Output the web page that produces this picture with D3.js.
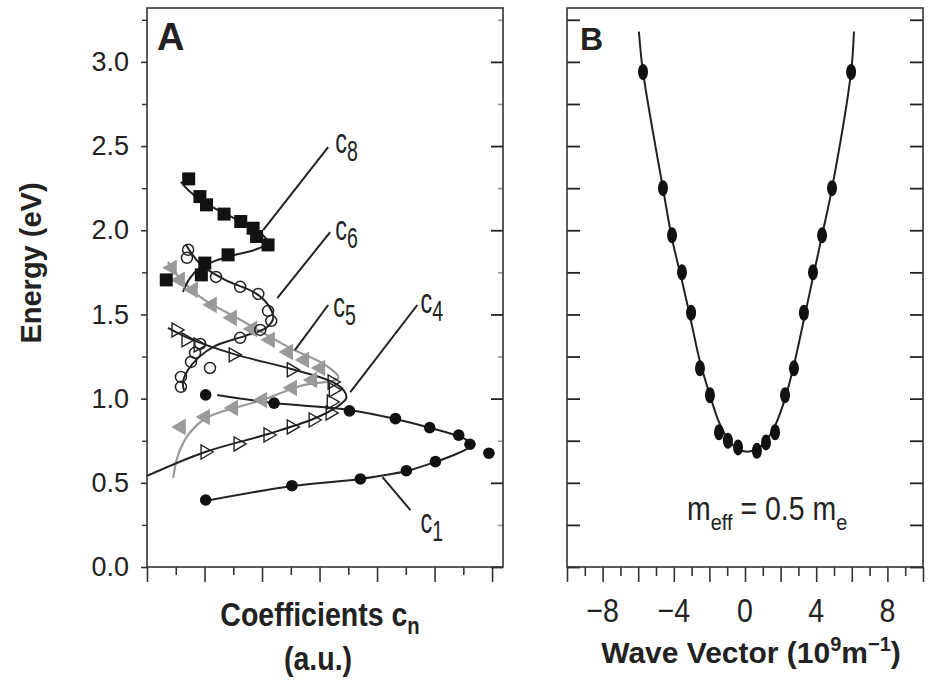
<!DOCTYPE html>
<html><head><meta charset="utf-8">
<script src="https://cdn.jsdelivr.net/npm/d3@7"></script>
<style>
body{margin:0;background:#fff}
svg{display:block}
text{font-family:"Liberation Sans",Arial,Helvetica,sans-serif;fill:#222}
</style>
</head><body>
<svg id="chart" width="928" height="680"></svg>
<script>
// ---------------- DATA ----------------
const energyMajor = [0, 0.5, 1.0, 1.5, 2.0, 2.5, 3.0];
const energyMinor = [0.25, 0.75, 1.25, 1.75, 2.25, 2.75, 3.25];
const energyLabels = ["0.0", "0.5", "1.0", "1.5", "2.0", "2.5", "3.0"];
const coeffTicks = [0, 1, 2, 3, 4, 5, 6, 7, 8, 9, 10, 11, 12];
const waveTicks = [-10, -9, -8, -7, -6, -5, -4, -3, -2, -1, 0, 1, 2, 3, 4, 5, 6, 7, 8, 9, 10];
const waveLabels = [-8, -4, 0, 4, 8];

// Panel A: [coefficient (a.u.), energy (eV)]
const c1Points = [[2.04,0.398],[5.04,0.483],[7.42,0.523],[9.02,0.572],[10.03,0.626],[11.89,0.676],
  [11.23,0.729],[10.84,0.783],[9.83,0.828],[8.64,0.881],[7.04,0.927],[4.42,0.973],[2.04,1.022]];
const c1Fit = [[2.02,0.392],[5.05,0.481],[7.42,0.523],[9.02,0.570],[10.03,0.624],[10.83,0.677],
  [11.25,0.719],[11.11,0.755],[10.83,0.778],[9.86,0.826],[8.64,0.879],[7.04,0.933],[4.42,0.974],[2.44,1.022]];

const c4Points = [[2.02,0.683],[3.17,0.731],[4.21,0.784],[5.02,0.832],[5.78,0.873],[6.37,0.915],
  [6.41,0.980],[6.48,1.052],[6.44,1.099],[5.02,1.171],[3.00,1.260],[1.78,1.319],[1.36,1.349],[1.01,1.408]];
const c4Fit = [[0,0.541],[2.02,0.683],[4.21,0.790],[5.78,0.879],[6.55,0.945],[6.93,1.004],[6.83,1.052],
  [6.37,1.105],[5.02,1.176],[3.00,1.266],[1.50,1.355],[0.73,1.420]];

const c5Points = [[1.18,0.832],[2.02,0.891],[3.00,0.945],[4.01,0.992],[5.05,1.064],[5.75,1.111],[6.03,1.182],
  [5.47,1.230],[4.91,1.277],[4.28,1.349],[3.66,1.414],[2.96,1.480],[2.26,1.557],[1.60,1.646],[1.15,1.705],[0.87,1.777]];
const c5Fit = [[0.91,0.529],[1.08,0.665],[1.43,0.784],[2.06,0.885],[4.01,0.992],[5.33,1.075],[6.65,1.123],
  [6.20,1.200],[4.98,1.301],[3.24,1.468],[1.85,1.604],[1.08,1.729],[0.73,1.812]];

const c6Points = [[1.43,1.884],[1.39,1.836],[2.40,1.723],[3.24,1.664],[3.87,1.622],[4.21,1.521],[4.32,1.462],
  [3.94,1.408],[3.24,1.361],[1.85,1.325],[1.67,1.272],[1.53,1.218],[2.19,1.182],[1.18,1.129],[1.18,1.070]];
const c6Fit = [[1.36,1.913],[1.85,1.800],[2.72,1.705],[3.76,1.628],[4.21,1.557],[4.39,1.480],[4.14,1.420],
  [3.41,1.373],[2.37,1.313],[1.78,1.242],[1.43,1.171],[1.25,1.099],[1.29,1.046]];

const c8Points = [[1.45,2.305],[1.84,2.200],[2.07,2.151],[2.68,2.096],[3.26,2.052],[3.69,2.012],[3.81,1.963],
  [4.21,1.913],[2.82,1.854],[2.01,1.805],[1.89,1.735],[0.67,1.705]];
const c8Fit = [[1.18,2.288],[1.50,2.228],[2.02,2.163],[2.72,2.098],[3.41,2.038],[4.01,1.973],[4.21,1.925],
  [3.76,1.884],[3.07,1.854],[2.37,1.818],[1.85,1.777],[1.50,1.717],[1.25,1.634]];

// leader lines: [from label, to curve] in data units, label anchor
const labelNames = ["8", "6", "5", "4", "1"];
const labelPos = [[6.55,2.458],[6.55,1.942],[6.48,1.485],[9.51,1.508],[9.51,0.202]];
const leaderLines = [[[6.30,2.494],[4.04,2.001]],[[6.37,1.989],[4.53,1.597]],[[6.30,1.556],[5.15,1.289]],
  [[9.40,1.556],[7.07,1.039]],[[9.16,0.338],[8.19,0.534]]];

// Panel B: [wave vector (1e9 m^-1), energy (eV)]
const bandPoints = [[-5.73,2.94],[-4.61,2.25],[-4.10,1.97],[-3.54,1.75],[-3.03,1.51],[-2.53,1.18],[-1.97,1.02],
  [-1.46,0.80],[-0.96,0.75],[-0.39,0.71],[0.67,0.69],[1.18,0.74],[1.69,0.80],[2.25,1.02],[2.75,1.18],
  [3.31,1.51],[3.82,1.75],[4.33,1.97],[4.89,2.25],[5.96,2.94]];
const bandFit = [[-5.96,3.18],[-5.73,2.94],[-4.61,2.25],[-4.10,1.95],[-3.54,1.70],[-3.03,1.46],[-2.53,1.22],
  [-1.97,1.02],[-1.46,0.86],[-0.96,0.76],[-0.39,0.70],[0.11,0.685],[0.67,0.70],[1.18,0.75],[1.69,0.84],
  [2.25,1.00],[2.75,1.20],[3.31,1.47],[3.82,1.72],[4.33,1.97],[4.89,2.25],[5.96,2.94],[6.12,3.18]];
const massLabelPos = [-3.26, 0.279];

// ---------------- LAYOUT ----------------
const svg = d3.select("#chart");
const topY = 8, bottomY = 567;
const aL = 147, aR = 503, bL = 567, bR = 923;
const yA = d3.scaleLinear().domain([0, 3.32]).range([bottomY, topY]);
const xA = d3.scaleLinear().domain([0, 12.38]).range([aL, aR]);
const xB = d3.scaleLinear().domain([-10, 10]).range([bL, bR]);
const FONT = '"Liberation Sans",Arial,Helvetica,sans-serif';
const frameColor = "#333";

function styleAxis(g, color, width) {
  g.select(".domain").remove();
  g.selectAll(".tick line").attr("stroke", color).attr("stroke-width", width);
}

// ----- Panel A axes -----
const gA = svg.append("g");
gA.append("g").attr("transform", `translate(${aL},0)`)
  .call(d3.axisLeft(yA).tickValues(energyMajor).tickSize(6).tickPadding(12)
    .tickFormat((d, i) => energyLabels[i]))
  .call(g => { styleAxis(g, frameColor, 1.6);
    g.selectAll("text").style("font-size", "27px").style("font-family", FONT).attr("fill", "#2a2a2a"); });
gA.append("g").attr("transform", `translate(${aL},0)`)
  .call(d3.axisLeft(yA).tickValues(energyMinor).tickSize(5).tickFormat(""))
  .call(g => styleAxis(g, frameColor, 1.4));
gA.append("g").attr("transform", `translate(${aR},0)`)
  .call(d3.axisLeft(yA).tickValues(energyMajor).tickSize(12).tickFormat(""))
  .call(g => styleAxis(g, "#222", 1.8));
gA.append("g").attr("transform", `translate(${aR},0)`)
  .call(d3.axisLeft(yA).tickValues(energyMinor).tickSize(5).tickFormat(""))
  .call(g => styleAxis(g, "#999", 1.6));
gA.append("g").attr("transform", `translate(0,${bottomY})`)
  .call(d3.axisBottom(xA).tickValues(coeffTicks).tickSizeInner(0).tickSizeOuter(0).tickFormat(""))
  .call(g => {
    g.select(".domain").remove();
    g.selectAll(".tick line").attr("y2", d => d % 2 === 0 ? 15 : 8)
      .attr("stroke", frameColor).attr("stroke-width", 1.6);
  });
gA.append("rect").attr("x", aL).attr("y", topY).attr("width", aR - aL).attr("height", bottomY - topY)
  .attr("fill", "none").attr("stroke", frameColor).attr("stroke-width", 1.6);

// ----- Panel B axes -----
const gB = svg.append("g");
gB.append("g").attr("transform", `translate(${bL},0)`)
  .call(d3.axisRight(yA).tickValues(energyMajor.concat(energyMinor)).tickSize(13).tickFormat(""))
  .call(g => styleAxis(g, "#222", 1.8));
gB.append("g").attr("transform", `translate(${bR},0)`)
  .call(d3.axisLeft(yA).tickValues(energyMajor.concat(energyMinor)).tickSize(13).tickFormat(""))
  .call(g => styleAxis(g, "#222", 1.8));
gB.append("g").attr("transform", `translate(0,${bottomY})`)
  .call(d3.axisBottom(xB).tickValues(waveTicks).tickSizeInner(0).tickSizeOuter(0).tickFormat(""))
  .call(g => {
    g.select(".domain").remove();
    g.selectAll(".tick line").attr("y2", d => d % 2 === 0 ? 15 : 9)
      .attr("stroke", frameColor).attr("stroke-width", 1.6);
  });
gB.selectAll("text.wl").data(waveLabels).join("text").attr("class", "wl")
  .attr("transform", d => `translate(${xB(d)},622) scale(0.92,1.08)`).attr("text-anchor", "middle")
  .style("font-size", "31px").attr("fill", "#2a2a2a")
  .text(d => d < 0 ? "\u2212" + Math.abs(d) : String(d));
gB.append("rect").attr("x", bL).attr("y", topY).attr("width", bR - bL).attr("height", bottomY - topY)
  .attr("fill", "none").attr("stroke", frameColor).attr("stroke-width", 1.6);

// ----- Axis titles -----
svg.append("text").attr("transform", "translate(41,263) rotate(-90)")
  .attr("text-anchor", "middle").style("font-size", "29px").style("font-weight", "bold")
  .text("Energy (eV)");
const ct = svg.append("text").attr("transform", "translate(320,626) scale(0.92,1.1)").attr("text-anchor", "middle")
  .style("font-size", "31px").style("font-weight", "bold");
ct.append("tspan").text("Coefficients c");
ct.append("tspan").attr("dy", 7).style("font-size", "22px").text("n");
svg.append("text").attr("transform", "translate(318,670) scale(0.92,1.1)").attr("text-anchor", "middle")
  .style("font-size", "31px").style("font-weight", "bold").text("(a.u.)");
const wt = svg.append("text").attr("x", 751).attr("y", 663).attr("text-anchor", "middle")
  .style("font-size", "30px").style("font-weight", "bold");
wt.append("tspan").text("Wave Vector (10");
wt.append("tspan").attr("dy", -12).style("font-size", "20px").text("9");
wt.append("tspan").attr("dy", 12).text("m");
wt.append("tspan").attr("dy", -12).style("font-size", "20px").text("\u22121");
wt.append("tspan").attr("dy", 12).text(")");

// panel letters
svg.append("text").attr("x", 157).attr("y", 50).style("font-size", "38px").style("font-weight", "bold").text("A");
svg.append("text").attr("x", 580).attr("y", 50).style("font-size", "32px").style("font-weight", "bold").text("B");

// ----- Panel A curves -----
const lineA = d3.line().x(d => xA(d[0])).y(d => yA(d[1])).curve(d3.curveCatmullRom.alpha(0.5));
const plotA = svg.append("g");
plotA.append("path").attr("d", lineA(c5Fit)).attr("fill", "none").attr("stroke", "#9a9a9a").attr("stroke-width", 2.2);
[c1Fit, c4Fit, c6Fit, c8Fit].forEach(f =>
  plotA.append("path").attr("d", lineA(f)).attr("fill", "none").attr("stroke", "#222").attr("stroke-width", 2));

// leader lines
plotA.selectAll("line.lead").data(leaderLines).join("line").attr("class", "lead")
  .attr("x1", d => xA(d[0][0])).attr("y1", d => yA(d[0][1]))
  .attr("x2", d => xA(d[1][0])).attr("y2", d => yA(d[1][1]))
  .attr("stroke", "#222").attr("stroke-width", 2);

// markers
const tri = d3.symbol().type(d3.symbolTriangle);
plotA.selectAll("path.c5").data(c5Points).join("path").attr("class", "c5")
  .attr("d", tri.size(120)()).attr("transform", d => `translate(${xA(d[0])},${yA(d[1])}) rotate(-90)`)
  .attr("fill", "#9a9a9a");
plotA.selectAll("path.c4").data(c4Points).join("path").attr("class", "c4")
  .attr("d", tri.size(85)()).attr("transform", d => `translate(${xA(d[0])},${yA(d[1])}) rotate(90)`)
  .attr("fill", "none").attr("stroke", "#222").attr("stroke-width", 1.4);
plotA.selectAll("circle.c6").data(c6Points).join("circle").attr("class", "c6")
  .attr("cx", d => xA(d[0])).attr("cy", d => yA(d[1])).attr("r", 5.5)
  .attr("fill", "none").attr("stroke", "#222").attr("stroke-width", 1.5);
plotA.selectAll("rect.c8").data(c8Points).join("rect").attr("class", "c8")
  .attr("x", d => xA(d[0]) - 6.5).attr("y", d => yA(d[1]) - 6.5).attr("width", 13).attr("height", 13)
  .attr("fill", "#111");
plotA.selectAll("circle.c1").data(c1Points).join("circle").attr("class", "c1")
  .attr("cx", d => xA(d[0])).attr("cy", d => yA(d[1])).attr("r", 5.8).attr("fill", "#111");

// labels c_n
labelNames.forEach((n, i) => {
  const t = plotA.append("text")
    .attr("transform", `translate(${xA(labelPos[i][0])},${yA(labelPos[i][1])}) scale(0.78,1.15)`)
    .style("font-size", "30px").attr("fill", "#333");
  t.append("tspan").text("c");
  t.append("tspan").attr("dy", 7).style("font-size", "25px").text(n);
});

// ----- Panel B -----
const lineB = d3.line().x(d => xB(d[0])).y(d => yA(d[1])).curve(d3.curveCatmullRom.alpha(0.5));
svg.append("path").attr("d", lineB(bandFit)).attr("fill", "none").attr("stroke", "#222").attr("stroke-width", 2);
svg.selectAll("ellipse.bp").data(bandPoints).join("ellipse").attr("class", "bp")
  .attr("cx", d => xB(d[0])).attr("cy", d => yA(d[1])).attr("rx", 5).attr("ry", 8).attr("fill", "#111");
const mt = svg.append("text")
  .attr("transform", `translate(${xB(massLabelPos[0])},${yA(massLabelPos[1])}) scale(0.95,1.08)`)
  .style("font-size", "30px").attr("fill", "#333");
mt.append("tspan").text("m");
mt.append("tspan").attr("dy", 9).style("font-size", "21px").text("eff");
mt.append("tspan").attr("dy", -9).text(" = 0.5 m");
mt.append("tspan").attr("dy", 9).style("font-size", "21px").text("e");
</script>
</body></html>
